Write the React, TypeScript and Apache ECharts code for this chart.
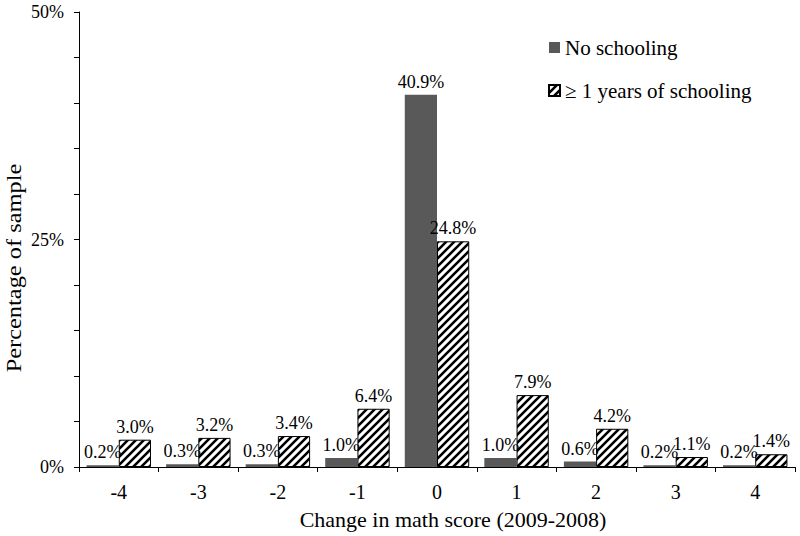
import React, { useEffect, useRef } from "react";
import * as echarts from "echarts";

const categories = ["-4", "-3", "-2", "-1", "0", "1", "2", "3", "4"];
const noSchooling = [0.2, 0.3, 0.3, 1.0, 40.9, 1.0, 0.6, 0.2, 0.2];
const someSchooling = [3.0, 3.2, 3.4, 6.4, 24.8, 7.9, 4.2, 1.1, 1.4];
const seriesNames = ["No schooling", "\u2265 1 years of schooling"];
const yTickLabels = [0, 25, 50];
const xTitle = "Change in math score (2009-2008)";
const yTitle = "Percentage of sample";

const FONT = "'Liberation Serif', 'Times New Roman', serif";

function makeHatch() {
  const s = 8;
  const c = document.createElement("canvas");
  c.width = s;
  c.height = s;
  const ctx = c.getContext("2d")!;
  ctx.fillStyle = "#fff";
  ctx.fillRect(0, 0, s, s);
  ctx.strokeStyle = "#000";
  ctx.lineWidth = 2.6;
  ctx.beginPath();
  ctx.moveTo(-2, s + 2);
  ctx.lineTo(s + 2, -2);
  ctx.moveTo(-2, 2);
  ctx.lineTo(2, -2);
  ctx.moveTo(s - 2, s + 2);
  ctx.lineTo(s + 2, s - 2);
  ctx.stroke();
  return c;
}

export default function App() {
  const ref = useRef<HTMLDivElement>(null);
  useEffect(() => {
    if (!ref.current) return;
    const chart = echarts.init(ref.current, null, { renderer: "svg" });
    const hatch = makeHatch();
    const pattern: any = { image: hatch, repeat: "repeat", imageWidth: 8, imageHeight: 8 };
    const labelStyle = {
      show: true,
      position: "top",
      distance: 4,
      fontFamily: FONT,
      fontSize: 18,
      color: "#000",
      formatter: (p: any) => p.value.toFixed(1) + "%",
    };
    chart.setOption({
      animation: false,
      backgroundColor: "#fff",
      textStyle: { fontFamily: FONT },
      grid: { left: 79, right: 5, top: 12, bottom: 69, containLabel: false, outerBoundsMode: "none" },
      legend: {
        orient: "vertical",
        left: 543,
        top: 32,
        itemWidth: 11,
        itemHeight: 11,
        itemGap: 22,
        icon: "rect",
        textStyle: { fontFamily: FONT, fontSize: 21, color: "#000" },
        data: seriesNames,
      },
      graphic: [
        {
          type: "text",
          x: 14,
          y: 268,
          rotation: Math.PI / 2,
          scaleX: 1.22,
          style: {
            text: yTitle,
            font: "20px " + FONT,
            fill: "#000",
            textAlign: "center",
            textVerticalAlign: "middle",
          },
        },
      ],
      xAxis: {
        type: "category",
        data: categories,
        name: xTitle,
        nameLocation: "middle",
        nameGap: 41,
        nameTextStyle: { fontFamily: FONT, fontSize: 22, color: "#000", padding: [0, 0, 0, 32] },
        axisLine: { lineStyle: { color: "#000", width: 1 } },
        axisTick: { show: true, length: 5, alignWithLabel: false, lineStyle: { color: "#000" } },
        axisLabel: { fontFamily: FONT, fontSize: 20, color: "#000", margin: 15 },
      },
      yAxis: {
        type: "value",
        min: 0,
        max: 50,
        interval: 5,
        splitLine: { show: false },
        axisLine: { show: true, lineStyle: { color: "#000", width: 1 } },
        axisTick: { show: true, length: 5, lineStyle: { color: "#000" } },
        axisLabel: {
          fontFamily: FONT,
          fontSize: 18,
          color: "#000",
          margin: 15,
          formatter: (v: number) => (yTickLabels.indexOf(v) >= 0 ? v + "%" : ""),
        },
      },
      series: [
        {
          name: seriesNames[0],
          type: "bar",
          data: noSchooling,
          barGap: "0%",
          barCategoryGap: "19%",
          itemStyle: { color: "#595959" },
          label: labelStyle,
        },
        {
          name: seriesNames[1],
          type: "bar",
          data: someSchooling,
          barGap: "0%",
          barCategoryGap: "19%",
          itemStyle: { color: pattern, borderColor: "#000", borderWidth: 1 },
          label: labelStyle,
        },
      ],
    });
    return () => chart.dispose();
  }, []);
  return <div ref={ref} style={{ width: 800, height: 536, position: "absolute", left: 0, top: 0 }} />;
}
